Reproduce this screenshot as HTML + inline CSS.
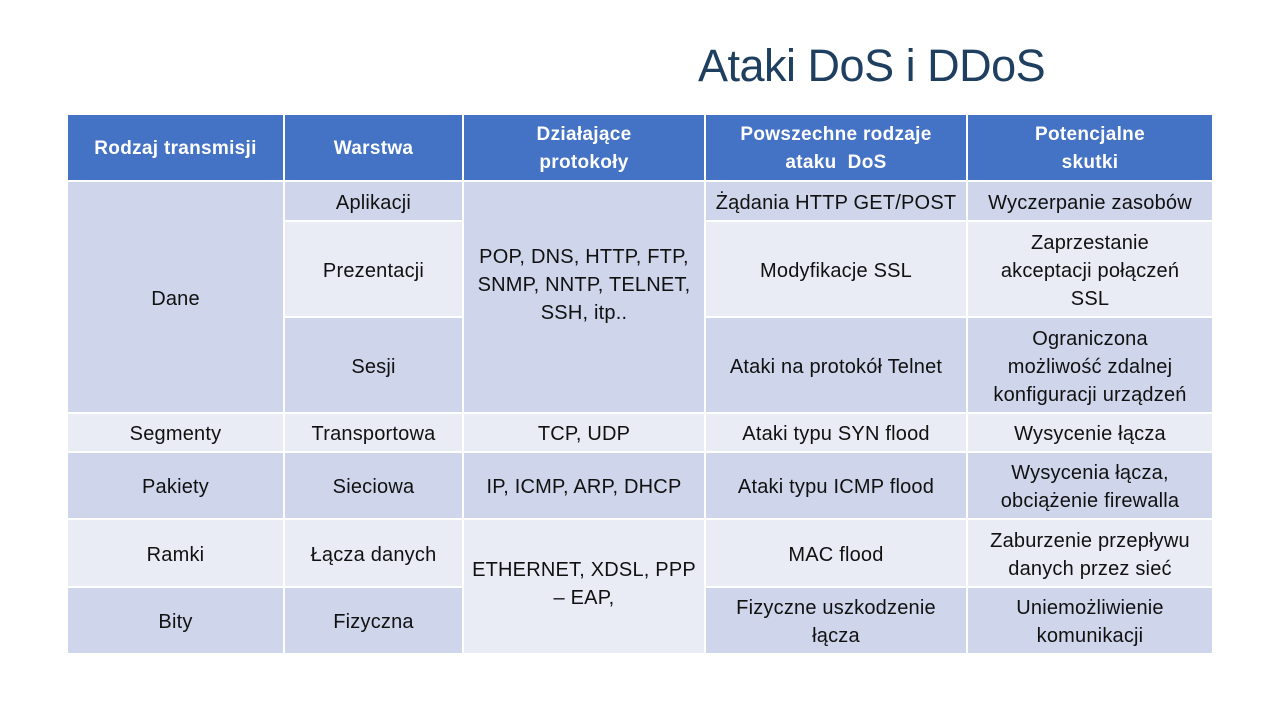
<!DOCTYPE html>
<html><head><meta charset="utf-8"><style>
body{margin:0;width:1280px;height:720px;background:#fff;position:relative;overflow:hidden;font-family:"Liberation Sans",sans-serif;}
.t{position:absolute;left:698px;top:40px;font-size:45px;color:#1e3f5f;letter-spacing:-0.5px;}
.c{position:absolute;display:flex;align-items:center;justify-content:center;text-align:center;font-size:20px;letter-spacing:0.2px;color:#111;line-height:28px;box-sizing:border-box;padding-top:3px;}
.h{background:#4472c4;color:#fff;font-weight:bold;font-size:19px;letter-spacing:0.3px;}
.d{background:#cfd5ea;}
.l{background:#e9ebf5;}
</style></head><body>
<div class="t">Ataki DoS i DDoS</div>
<div class="c h" style="left:68px;top:115px;width:215px;height:65px">Rodzaj transmisji</div>
<div class="c h" style="left:285px;top:115px;width:177px;height:65px">Warstwa</div>
<div class="c h" style="left:464px;top:115px;width:240px;height:65px">Działające<br>protokoły</div>
<div class="c h" style="left:706px;top:115px;width:260px;height:65px">Powszechne rodzaje<br>ataku&nbsp; DoS</div>
<div class="c h" style="left:968px;top:115px;width:244px;height:65px">Potencjalne<br>skutki</div>
<div class="c d" style="left:68px;top:182px;width:215px;height:230px">Dane</div>
<div class="c d" style="left:285px;top:182px;width:177px;height:38px">Aplikacji</div>
<div class="c l" style="left:285px;top:222px;width:177px;height:94px">Prezentacji</div>
<div class="c d" style="left:285px;top:318px;width:177px;height:94px">Sesji</div>
<div class="c d" style="left:464px;top:182px;width:240px;height:230px;padding-bottom:28px">POP, DNS, HTTP, FTP,<br>SNMP, NNTP, TELNET,<br>SSH, itp..</div>
<div class="c d" style="left:706px;top:182px;width:260px;height:38px">Żądania HTTP GET/POST</div>
<div class="c l" style="left:706px;top:222px;width:260px;height:94px">Modyfikacje SSL</div>
<div class="c d" style="left:706px;top:318px;width:260px;height:94px">Ataki na protokół Telnet</div>
<div class="c d" style="left:968px;top:182px;width:244px;height:38px">Wyczerpanie zasobów</div>
<div class="c l" style="left:968px;top:222px;width:244px;height:94px">Zaprzestanie<br>akceptacji połączeń<br>SSL</div>
<div class="c d" style="left:968px;top:318px;width:244px;height:94px">Ograniczona<br>możliwość zdalnej<br>konfiguracji urządzeń</div>
<div class="c l" style="left:68px;top:414px;width:215px;height:37px">Segmenty</div>
<div class="c l" style="left:285px;top:414px;width:177px;height:37px">Transportowa</div>
<div class="c l" style="left:464px;top:414px;width:240px;height:37px">TCP, UDP</div>
<div class="c l" style="left:706px;top:414px;width:260px;height:37px">Ataki typu SYN flood</div>
<div class="c l" style="left:968px;top:414px;width:244px;height:37px">Wysycenie łącza</div>
<div class="c d" style="left:68px;top:453px;width:215px;height:65px">Pakiety</div>
<div class="c d" style="left:285px;top:453px;width:177px;height:65px">Sieciowa</div>
<div class="c d" style="left:464px;top:453px;width:240px;height:65px">IP, ICMP, ARP, DHCP</div>
<div class="c d" style="left:706px;top:453px;width:260px;height:65px">Ataki typu ICMP flood</div>
<div class="c d" style="left:968px;top:453px;width:244px;height:65px">Wysycenia łącza,<br>obciążenie firewalla</div>
<div class="c l" style="left:68px;top:520px;width:215px;height:66px">Ramki</div>
<div class="c l" style="left:285px;top:520px;width:177px;height:66px">Łącza danych</div>
<div class="c l" style="left:464px;top:520px;width:240px;height:133px;padding-bottom:8px">ETHERNET, XDSL, PPP<br>– EAP,</div>
<div class="c l" style="left:706px;top:520px;width:260px;height:66px">MAC flood</div>
<div class="c l" style="left:968px;top:520px;width:244px;height:66px">Zaburzenie przepływu<br>danych przez sieć</div>
<div class="c d" style="left:68px;top:588px;width:215px;height:65px">Bity</div>
<div class="c d" style="left:285px;top:588px;width:177px;height:65px">Fizyczna</div>
<div class="c d" style="left:706px;top:588px;width:260px;height:65px">Fizyczne uszkodzenie<br>łącza</div>
<div class="c d" style="left:968px;top:588px;width:244px;height:65px">Uniemożliwienie<br>komunikacji</div>
</body></html>
